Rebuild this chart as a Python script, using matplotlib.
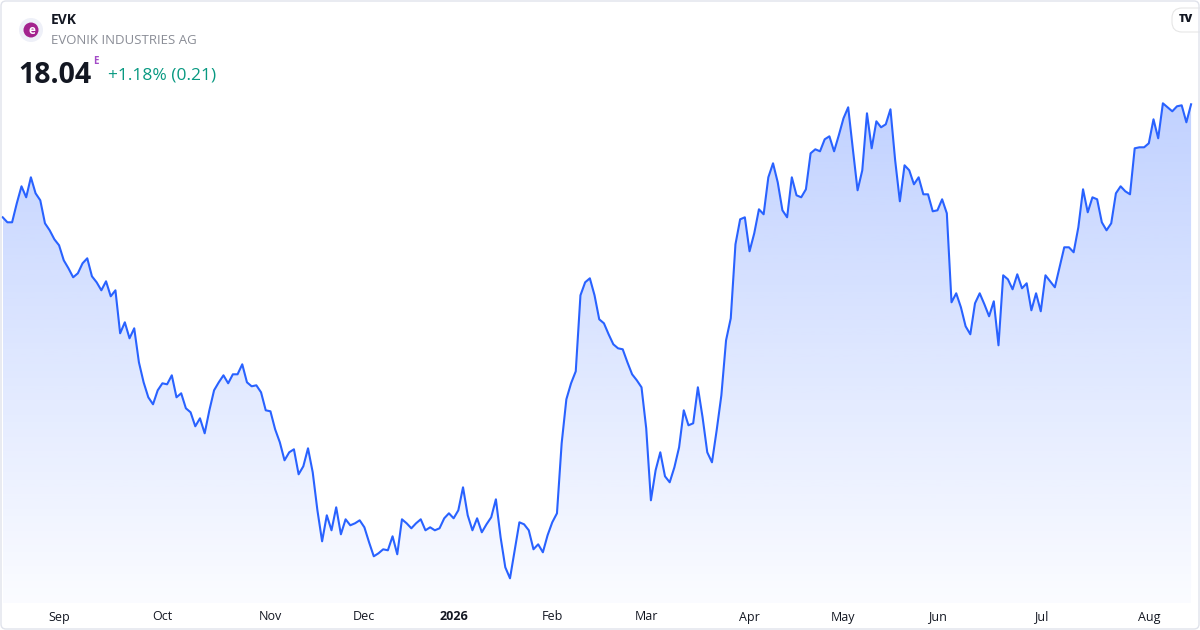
import numpy as np
import matplotlib
matplotlib.use("Agg")
import matplotlib.pyplot as plt
from matplotlib.patches import FancyBboxPatch, Circle

plt.rcParams['font.family'] = ['Open Sans', 'DejaVu Sans']

# daily closes, EVK
prices = [
    16.91, 16.86, 16.86, 17.05, 17.22, 17.11, 17.31, 17.15, 17.08, 16.85,
    16.78, 16.69, 16.63, 16.48, 16.40, 16.31, 16.35, 16.45, 16.50, 16.32,
    16.26, 16.18, 16.27, 16.12, 16.18, 15.75, 15.86, 15.70, 15.80, 15.46,
    15.26, 15.11, 15.04, 15.18, 15.25, 15.24, 15.33, 15.11, 15.15, 15.00,
    14.96, 14.82, 14.90, 14.75, 14.98, 15.18, 15.26, 15.33, 15.25, 15.34,
    15.34, 15.44, 15.26, 15.22, 15.23, 15.16, 14.98, 14.97, 14.79, 14.66,
    14.48, 14.56, 14.59, 14.34, 14.42, 14.60, 14.36, 13.98, 13.67, 13.93,
    13.78, 14.01, 13.74, 13.89, 13.83, 13.85, 13.88, 13.81, 13.66, 13.52,
    13.55, 13.59, 13.58, 13.72, 13.54, 13.89, 13.85, 13.80, 13.85, 13.89,
    13.78, 13.81, 13.78, 13.80, 13.90, 13.95, 13.90, 13.98, 14.21, 13.93,
    13.78, 13.90, 13.76, 13.84, 13.91, 14.09, 13.71, 13.41, 13.30, 13.58,
    13.86, 13.84, 13.78, 13.59, 13.64, 13.56, 13.73, 13.86, 13.95, 14.65,
    15.09, 15.25, 15.37, 16.13, 16.26, 16.30, 16.13, 15.89, 15.85, 15.74,
    15.64, 15.60, 15.59, 15.46, 15.34, 15.28, 15.21, 14.80, 14.08, 14.38,
    14.56, 14.32, 14.26, 14.41, 14.61, 14.98, 14.83, 14.85, 15.21, 14.91,
    14.56, 14.46, 14.78, 15.13, 15.68, 15.90, 16.64, 16.89, 16.91, 16.57,
    16.75, 16.99, 16.94, 17.31, 17.45, 17.26, 16.98, 16.91, 17.31, 17.13,
    17.11, 17.19, 17.55, 17.59, 17.57, 17.69, 17.72, 17.57, 17.73, 17.90,
    18.01, 17.59, 17.18, 17.38, 17.95, 17.60, 17.87, 17.81, 17.84, 17.99,
    17.48, 17.07, 17.43, 17.38, 17.24, 17.31, 17.14, 17.14, 16.97, 16.98,
    17.09, 16.95, 16.06, 16.15, 16.01, 15.82, 15.74, 16.05, 16.15, 16.04,
    15.92, 16.07, 15.63, 16.33, 16.29, 16.19, 16.34, 16.20, 16.25, 15.98,
    16.15, 15.97, 16.33, 16.27, 16.21, 16.41, 16.61, 16.61, 16.56, 16.81,
    17.19, 16.96, 17.11, 17.09, 16.86, 16.78, 16.85, 17.15, 17.22, 17.17,
    17.14, 17.60, 17.61, 17.61, 17.65, 17.89, 17.70, 18.05, 18.01, 17.97,
    18.02, 18.03, 17.86, 18.04,
]

# first trading day of each month (index into prices)
month_idx = [12, 34, 57, 77, 96, 117, 137, 159, 179, 199, 221, 244]
month_lbl = ['Sep', 'Oct', 'Nov', 'Dec', '2026', 'Feb', 'Mar', 'Apr',
             'May', 'Jun', 'Jul', 'Aug']

W, H = 1200, 630
fig = plt.figure(figsize=(W / 100, H / 100), dpi=100)
fig.patch.set_facecolor('white')

def fx(px):
    return px / W

def fy(py):
    return 1 - py / H

# plot area
ax = fig.add_axes([0, fy(603), 1, fy(0) - fy(603)])
ax.axis('off')

x = np.arange(len(prices))
y = np.array(prices)
ymin = 13.053

# gradient fill under the line
blue = np.array([41, 98, 255]) / 255
n = 256
grad = np.zeros((n, 1, 4))
grad[:, :, :3] = blue
grad[:, :, 3] = np.linspace(0.02, 0.29, n).reshape(n, 1)
img = ax.imshow(grad, aspect='auto', origin='lower',
                extent=[x[0], x[-1], ymin, y.max()], zorder=1)
poly = ax.fill_between(x, y, ymin, facecolor='none', edgecolor='none')
img.set_clip_path(poly.get_paths()[0], transform=ax.transData)

ax.plot(x, y, color='#2962ff', lw=1.5, zorder=3, solid_joinstyle='round')
ax.set_xlim(-0.575, 254.9)
ax.set_ylim(ymin, 19.083)

# month labels
for i, lbl in zip(month_idx, month_lbl):
    fig.text(fx(2.7 + i * 4.697), fy(617), lbl, ha='center', va='center',
             fontsize=9, color='#131722',
             fontweight='bold' if lbl == '2026' else 'normal')

# header: logo (drawn in pixel coords so it stays round)
fig.patches.append(Circle((31, H - 30), 12, transform=None,
                          facecolor='#eef0f8', edgecolor='none'))
fig.patches.append(Circle((31, H - 30), 7.5, transform=None,
                          facecolor='#a3238e', edgecolor='none'))
fig.text(fx(31.5), fy(30.5), 'e', ha='center', va='center', fontsize=8.5,
         color='white', fontweight='bold')
fig.text(fx(51), fy(20), 'EVK', ha='left', va='center', fontsize=10,
         fontweight='bold', color='#131722')
fig.text(fx(51), fy(41), 'EVONIK INDUSTRIES AG', ha='left', va='center',
         fontsize=9.5, color='#8a8d96')
fig.text(fx(18), fy(83), '18.04', ha='left', va='baseline', fontsize=20.5,
         fontweight='bold', color='#131722')
fig.text(fx(93), fy(61), 'E', ha='left', va='center', fontsize=7,
         fontweight='bold', color='#a34bc7')
fig.text(fx(108), fy(75), '+1.18% (0.21)', ha='left', va='center',
         fontsize=12.5, color='#089981')

# tradingview badge
fig.patches.append(FancyBboxPatch((1172, H - 32), 40, 24, transform=None,
                                  boxstyle='round,pad=0,rounding_size=10',
                                  facecolor='white', edgecolor='#e6e6e6', lw=0.8))
fig.text(fx(1186), fy(20), 'TV', ha='center', va='center', fontsize=8,
         fontweight='heavy', color='#131722')

# outer frame
fig.patches.append(FancyBboxPatch((1, 1), W - 2, H - 2, transform=None,
                                  boxstyle='round,pad=0,rounding_size=5',
                                  facecolor='none', edgecolor='#e0e3eb', lw=1))

fig.savefig('out.png', dpi=100)
